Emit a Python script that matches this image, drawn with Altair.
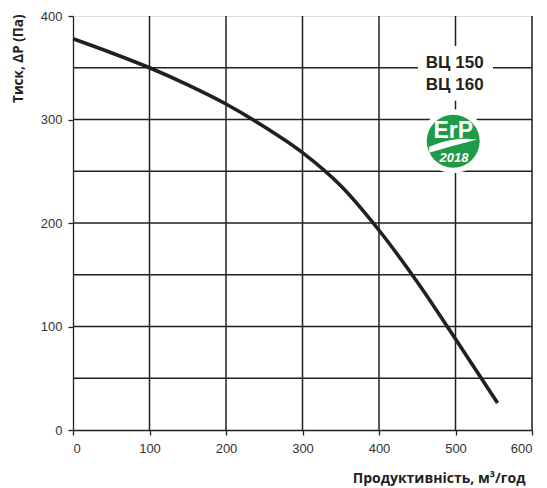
import altair as alt
import pandas as pd

# Curve data (flow m3/h, pressure Pa)
flow = [0, 50, 100, 150, 200, 250, 300, 350, 400, 450, 500, 555]
pressure = [378, 364.5, 350, 333.5, 315, 293, 268, 236, 193, 143, 88, 26]

x_ticks = [0, 100, 200, 300, 400, 500, 600]
y_ticks = [0, 100, 200, 300, 400]
v_grid = [100, 200, 300, 400, 500, 600]
h_grid = [50, 100, 150, 200, 250, 300, 350]

model_labels = ["ВЦ 150", "ВЦ 160"]

INK = "#231f20"
GREEN = "#1e9a48"

curve_df = pd.DataFrame({"flow": flow, "pressure": pressure})
xs = alt.Scale(domain=[0, 600], nice=False, zero=False)
ys = alt.Scale(domain=[0, 400], nice=False, zero=False)

x_axis = alt.Axis(values=x_ticks, grid=False, title="Продуктивність, м³/год",
                  domainColor=INK, domainWidth=1.3, tickColor=INK, tickWidth=1.3, tickSize=5,
                  labelFont="Liberation Sans", labelFontSize=13, labelColor="#333333",
                  labelPadding=7,
                  titleFont="Open Sans", titleFontSize=14, titleFontWeight="bold",
                  titleColor=INK, titleX=452, titleY=48, titleAlign="right",
                  titleBaseline="middle")
y_axis = alt.Axis(values=y_ticks, grid=False, title="Тиск, ΔР (Па)",
                  domainColor=INK, domainWidth=1.3, tickColor=INK, tickWidth=1.3, tickSize=5,
                  labelFont="Liberation Sans", labelFontSize=13, labelColor="#333333",
                  labelPadding=6,
                  titleFont="Open Sans", titleFontSize=13.5, titleFontWeight="bold",
                  titleColor=INK, titleX=-55, titleY=-2, titleAlign="right",
                  titleBaseline="middle", titleAngle=270)

vgrid = alt.Chart(pd.DataFrame({"v": v_grid})).mark_rule(color=INK, strokeWidth=1.5).encode(
    x=alt.X("v:Q", scale=xs, axis=x_axis)
)
hgrid = alt.Chart(pd.DataFrame({"h": h_grid})).mark_rule(color=INK, strokeWidth=1.4).encode(
    y=alt.Y("h:Q", scale=ys, axis=y_axis)
)

# white background behind the model labels
label_bg = alt.Chart(pd.DataFrame({"a": [0]})).mark_rect(color="white").encode(
    x=alt.X(datum=451, scale=xs, axis=x_axis), x2=alt.datum(549),
    y=alt.Y(datum=371, scale=ys, axis=y_axis), y2=alt.datum(318),
)

line = alt.Chart(curve_df).mark_line(color=INK, strokeWidth=3.6, interpolate="monotone").encode(
    x=alt.X("flow:Q", scale=xs, axis=x_axis),
    y=alt.Y("pressure:Q", scale=ys, axis=y_axis),
)

labels_df = pd.DataFrame({"t": model_labels, "yy": [355, 333]})
model_text = alt.Chart(labels_df).mark_text(
    font="Liberation Sans", fontSize=17, fontWeight="bold", color=INK, baseline="middle", align="center"
).encode(x=alt.X(datum=499, scale=xs, axis=x_axis), y=alt.Y("yy:Q", scale=ys, axis=y_axis), text="t:N")

def at(chart, xv, yv):
    return chart.encode(x=alt.X(datum=xv, scale=xs, axis=x_axis), y=alt.Y(datum=yv, scale=ys, axis=y_axis))

one = pd.DataFrame({"a": [0]})
# ErP logo
halo = at(alt.Chart(one).mark_point(shape="circle", filled=True, color="white", opacity=1, size=4100), 497, 279)
badge = at(alt.Chart(one).mark_point(shape="circle", filled=True, color=GREEN, opacity=1, size=2800), 497, 279)
swoosh = at(alt.Chart(one).mark_point(
    shape="M -1 0.1 Q 0 -0.35 1 -0.2 Q 0 0.05 -1 0.35 Z", filled=True, color="white", opacity=1, size=2300), 497, 276)
erp = at(alt.Chart(pd.DataFrame({"t": ["ErP"]})).mark_text(
    font="Liberation Sans", fontSize=23, fontWeight="bold", color="white",
    baseline="middle", align="center").encode(text="t:N"), 497, 289)
year = at(alt.Chart(pd.DataFrame({"t": ["2018"]})).mark_text(
    font="Liberation Sans", fontSize=13, fontWeight="bold", fontStyle="italic", color="white",
    baseline="middle", align="center").encode(text="t:N"), 498, 263)

chart = alt.layer(vgrid, hgrid, label_bg, line, model_text, halo, badge, swoosh, erp, year).properties(
    width=459, height=414,
    autosize=alt.AutoSizeParams(type="none"),
    padding={"left": 65, "top": 8, "right": 7, "bottom": 66},
).configure_view(stroke=None).configure(background="white")

chart.save("out.html", embed_options={"renderer": "svg", "actions": False})
